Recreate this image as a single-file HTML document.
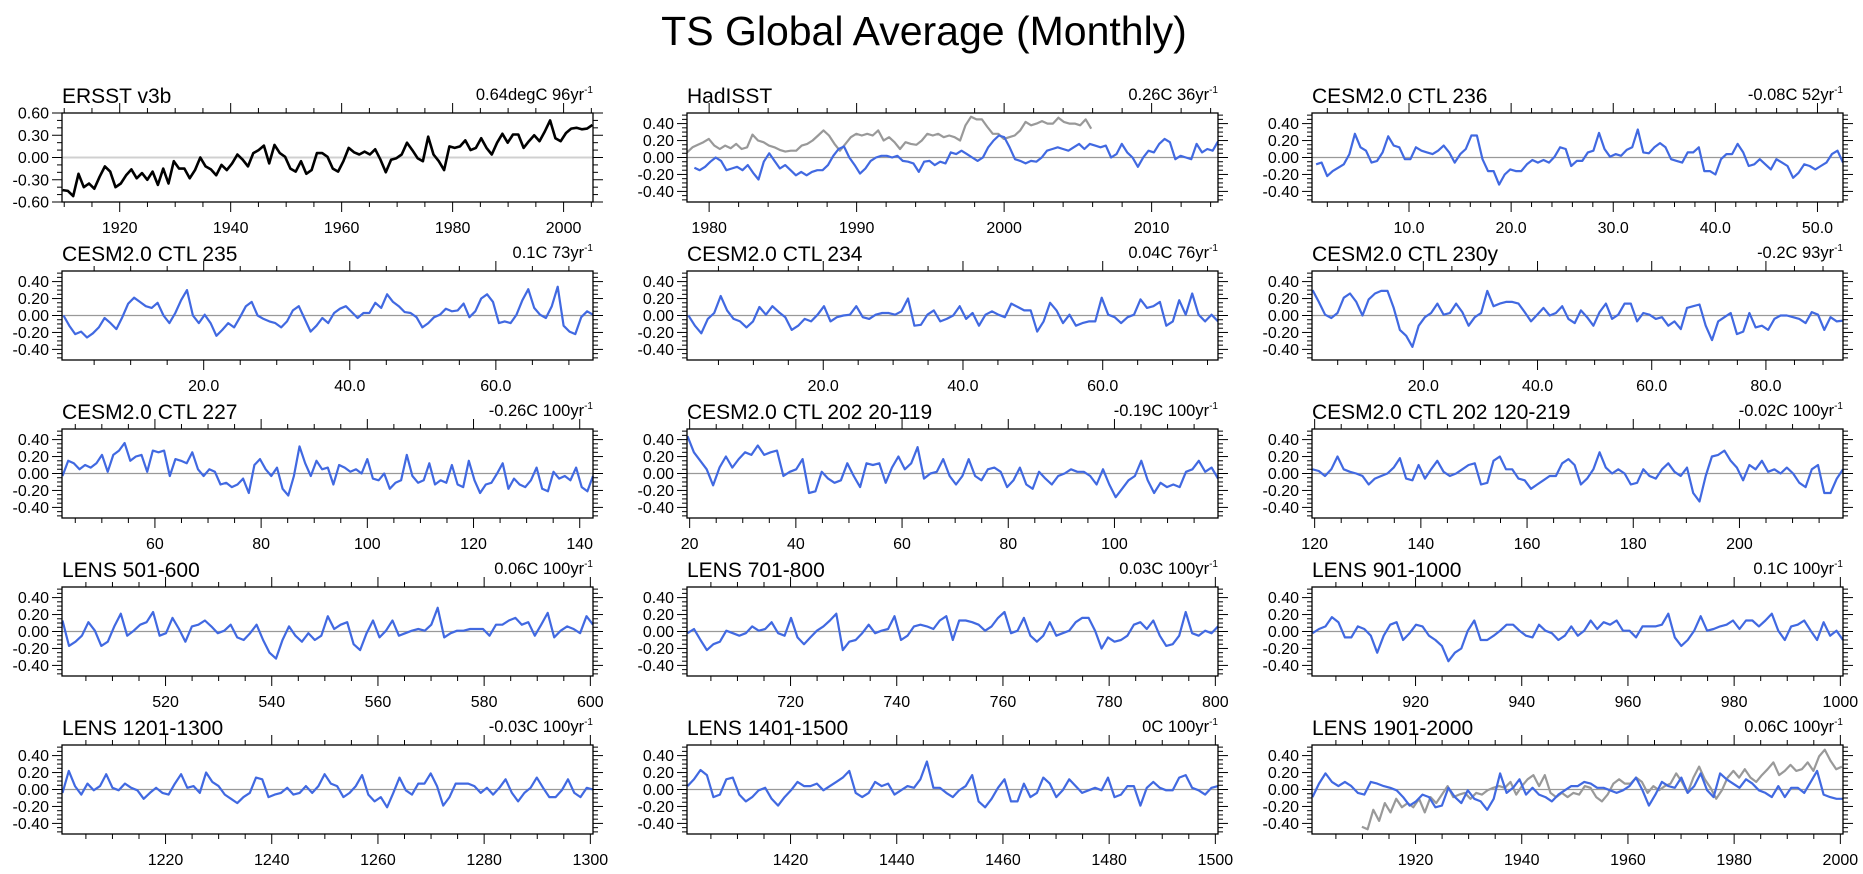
<!DOCTYPE html>
<html><head><meta charset="utf-8"><title>TS Global Average (Monthly)</title>
<style>
html,body{margin:0;padding:0;background:#fff;}
svg{display:block;font-family:"Liberation Sans",Arial,sans-serif;}
</style></head>
<body>
<svg id="chart" width="1863" height="874" viewBox="0 0 1863 874" xmlns="http://www.w3.org/2000/svg">
<rect width="1863" height="874" fill="#fff"/>
<text x="924" y="45" font-size="41" text-anchor="middle" fill="#000">TS Global Average (Monthly)</text>
</svg>
<script>
// ---- data ----
const ersstVals=[-.44,-.45,-.52,-.22,-.40,-.35,-.42,-.26,-.12,-.19,-.40,-.35,-.24,-.16,-.28,-.21,-.30,-.19,-.37,-.15,-.35,-.05,-.15,-.15,-.28,-.17,0,-.12,-.16,-.24,-.10,-.17,-.08,.04,-.03,-.12,.06,.10,.16,-.08,.17,.06,.01,-.15,-.19,-.05,-.22,-.17,.06,.06,.01,-.15,-.19,-.05,.13,.07,.04,.08,.04,.11,-.03,-.20,-.03,-.01,.04,.20,.10,-.01,-.05,.28,.04,-.05,-.17,.15,.13,.15,.23,.10,.13,.26,.13,.04,.20,.32,.20,.31,.31,.13,.22,.30,.22,.35,.50,.26,.22,.33,.39,.40,.38,.39,.44];
const hadBlueVals=[-.12,-.15,-.11,-.05,0,-.04,-.15,-.13,-.11,-.15,-.09,-.18,-.26,-.05,.05,-.04,-.13,-.09,-.15,-.21,-.17,-.21,-.17,-.15,-.15,-.09,.02,.10,.13,0,-.09,-.19,-.13,-.04,0,.02,.02,0,.02,-.04,-.05,-.07,-.17,-.05,-.04,-.09,-.05,-.07,.06,.04,.08,.04,0,-.04,0,.12,.20,.26,.24,.12,-.02,-.04,-.07,-.04,-.05,0,.08,.10,.12,.10,.08,.12,.16,.10,.16,.14,.12,.14,0,.04,.16,.06,0,-.11,0,.08,.06,.16,.22,.18,-.02,.02,0,-.02,.16,.06,.10,.08,.19];
const hadGrayVals=[.06,.12,.15,.18,.22,.14,.10,.14,.11,.16,.10,.12,.27,.20,.18,.14,.12,.09,.07,.08,.08,.14,.16,.20,.26,.32,.26,.16,.08,.16,.24,.28,.26,.28,.26,.32,.20,.24,.18,.10,.18,.16,.15,.20,.28,.26,.28,.24,.26,.24,.20,.38,.48,.45,.45,.36,.28,.28,.22,.24,.26,.32,.42,.38,.40,.43,.40,.40,.47,.42,.40,.40,.38,.45,.34];
const ctl236Vals=[-.08,-.06,-.22,-.16,-.12,-.08,.04,.28,.12,.08,-.06,-.04,.06,.25,.14,.12,-.02,-.02,.12,.08,.06,.04,.08,.14,.06,-.06,.04,.10,.26,.26,-.02,-.16,-.16,-.32,-.20,-.14,-.16,-.16,-.08,-.03,-.06,-.03,-.06,.01,.12,.10,-.10,-.04,-.04,.06,.08,.29,.10,.01,.04,.02,.09,.12,.33,.06,.05,.12,.17,.12,-.02,-.04,-.06,.06,.06,.12,-.16,-.16,-.20,-.02,.04,.04,.16,.06,-.10,-.08,-.02,-.08,-.14,-.02,-.06,-.10,-.24,-.18,-.08,-.10,-.14,-.10,-.06,.04,.08,-.06];
const ctl235Vals=[0,-.12,-.22,-.19,-.26,-.21,-.14,-.03,-.09,-.16,-.02,.14,.21,.16,.11,.09,.15,0,-.09,.03,.18,.30,0,-.09,.01,-.09,-.24,-.17,-.09,-.14,-.02,.11,.16,0,-.04,-.07,-.09,-.14,-.07,.06,.11,-.04,-.19,-.12,-.03,-.09,.03,.08,.11,.04,-.03,.03,.03,.15,.09,.25,.16,.11,.04,.03,-.02,-.14,-.09,-.02,.01,.08,.05,.06,.14,-.02,.05,.20,.25,.16,-.09,-.07,-.09,.01,.18,.31,.09,.01,-.03,.11,.34,-.12,-.19,-.22,-.02,.05,.01];
const ctl234Vals=[0,-.12,-.21,-.04,.03,.23,.06,-.04,-.07,-.14,-.07,.10,.01,.11,.04,-.02,-.17,-.12,-.04,-.07,.01,.11,-.07,-.02,0,.01,.11,-.02,-.04,.01,.03,.03,.01,.05,.20,-.12,-.11,.01,.06,-.07,-.04,0,.11,-.04,.03,-.12,.01,.05,.01,-.02,.14,.10,.06,.06,-.19,-.07,.15,.06,-.09,.01,-.12,-.09,-.07,-.07,.21,.01,-.02,-.09,-.02,.01,.19,.09,.11,.16,-.12,-.07,.18,.01,.26,.01,-.07,.01,-.07];
const ctl230Vals=[.30,.16,.01,-.03,.03,.21,.26,.16,0,.19,.26,.29,.29,.09,-.17,-.24,-.37,-.12,-.02,.03,.14,.01,.03,.14,.04,-.12,-.02,.03,.29,.11,.14,.16,.16,.14,.04,-.07,.01,.09,0,.03,.11,-.04,-.09,.06,-.02,-.12,.04,.14,-.04,.01,.14,.14,-.07,.03,.01,-.04,-.02,-.12,-.07,-.16,.09,.11,.13,-.12,-.29,-.07,-.02,.03,-.22,-.19,.03,-.14,-.12,-.17,-.04,0,0,-.02,-.04,-.09,.04,.01,-.17,-.02,-.07,-.06];
const ctl227Vals=[-.03,.15,.12,.05,.10,.07,.12,.22,.02,.22,.27,.36,.15,.20,.22,.02,.27,.25,.27,-.03,.17,.15,.12,.25,.05,-.03,.05,.02,-.13,-.11,-.16,-.13,-.06,-.23,.10,.17,.05,-.03,.07,-.18,-.26,-.03,.32,.12,-.03,.15,.05,.07,-.13,.10,.07,.02,.05,0,.17,-.06,-.08,0,-.18,-.11,-.08,.22,-.03,-.11,-.08,.12,-.13,-.08,-.11,.10,-.13,-.16,.15,-.08,-.23,-.13,-.11,0,.12,-.18,-.06,-.13,-.16,-.08,.07,-.18,-.21,.02,-.06,-.03,-.08,.07,-.16,-.21,-.03];
const ctl202aVals=[.44,.25,.15,.05,-.14,.07,.20,.07,.17,.25,.22,.33,.22,.25,.27,-.03,.02,.05,.17,-.23,-.21,.02,-.06,-.11,-.08,.12,-.03,-.16,.12,.10,.12,-.11,.07,.20,.05,.12,.31,-.06,0,.02,.17,-.03,-.13,-.03,.17,-.03,-.08,.05,.07,.02,-.16,-.08,.07,-.13,-.18,.02,-.06,-.13,-.03,0,.05,.02,.02,-.03,-.13,.05,-.13,-.28,-.18,-.08,-.03,.15,-.08,-.23,-.11,-.16,-.13,-.16,.02,.05,.15,.02,.07,-.06];
const ctl202bVals=[.05,.03,-.03,.05,.20,.05,.02,0,-.03,-.13,-.06,-.03,0,.07,.18,-.06,-.08,.10,-.06,.05,.15,.02,-.03,0,.05,.10,.12,-.13,-.11,.15,.20,.05,.05,-.06,-.08,-.18,-.13,-.08,-.03,-.03,.12,.17,.10,-.13,-.06,.05,.25,.07,0,.05,0,-.13,-.11,.05,-.03,-.06,.05,.12,.02,-.03,.07,-.23,-.33,-.03,.20,.22,.27,.15,.07,-.08,.10,.05,.15,.02,.05,0,.07,0,-.11,-.16,.05,.10,-.23,-.23,-.06,.05];
const lens501Vals=[.13,-.17,-.12,-.05,.11,.01,-.17,-.12,.06,.21,-.05,.01,.08,.11,.23,-.05,-.02,.16,.03,-.12,.06,.08,.13,.06,-.02,.01,.08,-.07,-.10,-.02,.08,-.10,-.25,-.32,-.10,.06,-.05,-.12,-.02,-.10,-.05,.18,.03,.08,.11,-.15,-.22,-.02,.13,-.07,.01,.13,-.05,-.02,.01,.03,.01,.08,.28,-.07,-.02,.01,.01,.03,.03,.03,-.05,.08,.08,.13,.16,.08,.11,-.05,.08,.22,-.07,.01,.06,.03,-.02,.18,.08];
const lens701Vals=[-.02,.03,-.10,-.22,-.15,-.12,.01,-.02,-.05,-.02,.06,.01,.03,.11,-.02,-.05,.16,-.07,-.15,-.07,.01,.06,.13,.21,-.22,-.12,-.10,-.02,.08,-.02,.01,.03,.18,-.10,-.05,.06,.08,.06,.03,.13,.18,-.10,.13,.13,.11,.08,.01,.06,.16,.23,-.02,.01,.16,-.05,-.12,-.05,.11,-.05,-.02,.01,.11,.16,.16,.01,-.20,-.07,-.12,-.10,-.05,.08,.11,.03,.13,-.05,-.17,-.15,-.05,.23,-.02,-.05,.01,-.02,.06];
const lens901Vals=[-.02,.03,.06,.17,.11,-.07,-.07,.06,.03,-.05,-.25,-.05,.08,.11,-.10,-.02,.08,.06,-.05,-.10,-.17,-.35,-.25,-.20,.01,.13,-.10,-.10,-.05,.01,.08,.08,.01,-.05,-.07,.08,.01,-.02,-.10,-.05,.06,-.05,.01,.13,.03,.11,.08,.13,.01,.01,-.07,.06,.06,.06,.08,.21,-.07,-.17,-.10,.01,.18,.01,.03,.06,.08,.13,.03,.13,.13,.06,.13,.21,.01,-.10,.06,.08,.13,.01,-.10,.11,-.05,.01,-.10];
const lens1201Vals=[-.04,.22,.04,-.06,.07,-.01,.04,.18,.02,-.01,.07,.02,-.01,-.11,-.04,.02,-.04,-.06,.07,.18,.02,.04,-.04,.20,.09,.04,-.06,-.11,-.16,-.09,-.04,.14,.12,-.09,-.06,-.04,.02,-.06,-.04,.04,-.04,.04,.18,.07,.04,-.09,-.04,.04,.17,-.06,-.14,-.09,-.21,-.04,.14,-.01,-.06,.07,.07,.19,.04,-.19,-.09,.07,.07,.07,.04,-.04,.02,-.06,.02,.12,-.04,-.14,-.04,.02,.14,.02,-.09,-.09,-.01,.12,-.04,-.09,.02,0];
const lens1401Vals=[.04,.12,.23,.17,-.09,-.06,.12,.14,-.06,-.14,-.09,-.01,.02,-.11,-.19,-.09,-.01,.09,.04,.04,.07,-.01,.04,.09,.14,.22,-.04,-.09,-.04,.09,.04,.07,-.06,-.01,.04,.02,.12,.33,.02,.02,-.04,-.09,-.01,.04,.17,-.14,-.21,-.11,.02,.12,-.14,-.14,.07,-.09,-.04,.14,.07,-.09,-.01,.12,.04,-.04,-.01,.02,-.01,.14,-.09,-.06,.04,.04,-.19,.02,.09,.02,-.01,-.01,.14,.17,.02,-.01,-.06,.02,.04];
const lens1901Vals=[-.09,.07,.19,.09,.04,.09,.04,-.04,-.06,.09,.07,.04,.02,-.01,-.09,-.19,-.14,-.06,-.09,-.21,-.19,.02,-.09,-.16,-.01,-.11,-.14,-.24,-.11,.19,-.04,.02,.12,-.06,.02,-.06,-.09,-.14,-.06,-.01,.04,.04,.09,.07,.02,.02,-.01,-.04,-.01,.04,.14,-.01,-.19,-.06,.09,.04,.02,.14,-.04,.04,.19,-.01,-.09,.19,.12,.07,.02,.12,.07,-.01,-.04,-.09,.04,-.09,.02,.02,-.04,.09,.22,-.06,-.09,-.11,-.11];
const obs1901Vals=[-.44,-.47,-.24,-.37,-.16,-.27,-.11,-.21,-.16,-.21,-.11,-.27,-.09,-.16,-.06,.04,-.09,-.06,-.04,-.11,-.04,-.06,-.01,.02,.04,.02,.09,-.06,.04,.12,.17,.04,.17,-.04,-.09,-.04,-.09,-.04,-.06,.04,.02,-.09,-.14,-.06,.07,.12,.07,.07,.14,.09,-.04,.04,-.01,.04,.07,.19,.09,-.04,.14,.27,.12,.02,-.11,-.01,.14,.22,.14,.24,.14,.09,.17,.24,.32,.17,.22,.29,.22,.24,.32,.22,.39,.47,.34,.24,.27];

const panelTitles=["ERSST v3b","HadISST","CESM2.0 CTL 236","CESM2.0 CTL 235","CESM2.0 CTL 234","CESM2.0 CTL 230y","CESM2.0 CTL 227","CESM2.0 CTL 202 20-119","CESM2.0 CTL 202 120-219","LENS 501-600","LENS 701-800","LENS 901-1000","LENS 1201-1300","LENS 1401-1500","LENS 1901-2000"];
const trendLabels=["0.64degC 96yr","0.26C 36yr","-0.08C 52yr","0.1C 73yr","0.04C 76yr","-0.2C 93yr","-0.26C 100yr","-0.19C 100yr","-0.02C 100yr","0.06C 100yr","0.03C 100yr","0.1C 100yr","-0.03C 100yr","0C 100yr","0.06C 100yr"];
const xDomains=[[1909.6,2005.3],[1978.5,2014.5],[0.5,52.5],[0.6,73.3],[0.5,76.5],[0.5,93.5],[42.5,142.5],[19.5,119.5],[119.5,219.5],[500.5,600.5],[700.5,800.5],[900.5,1000.5],[1200.5,1300.5],[1400.5,1500.5],[1900.5,2000.5]];
const xMajor=[20,10,10,20,20,20,20,20,20,20,20,20,20,20,20];
const xMinor=[5,2,2,5,5,5,5,5,5,5,5,5,5,5,5];
const xDecimals=[0,0,1,1,1,1,0,0,0,0,0,0,0,0,0];
const seriesList=[
 [{v:ersstVals,t0:1909.7,t1:2005.2,c:"#000",w:2.6}],
 [{v:hadGrayVals,t0:1978.5,t1:2005.9,c:"#999",w:2.2},{v:hadBlueVals,t0:1979,t1:2014.5,c:"#4169e1",w:2.2}],
 [{v:ctl236Vals,t0:0.9,t1:52.5,c:"#4169e1",w:2.2}],
 [{v:ctl235Vals,t0:0.8,t1:73.3,c:"#4169e1",w:2.2}],
 [{v:ctl234Vals,t0:0.7,t1:76.5,c:"#4169e1",w:2.2}],
 [{v:ctl230Vals,t0:0.6,t1:93.5,c:"#4169e1",w:2.2}],
 [{v:ctl227Vals,t0:42.6,t1:142.5,c:"#4169e1",w:2.2}],
 [{v:ctl202aVals,t0:19.6,t1:119.5,c:"#4169e1",w:2.2}],
 [{v:ctl202bVals,t0:119.6,t1:219.5,c:"#4169e1",w:2.2}],
 [{v:lens501Vals,t0:500.6,t1:600.5,c:"#4169e1",w:2.2}],
 [{v:lens701Vals,t0:700.6,t1:800.5,c:"#4169e1",w:2.2}],
 [{v:lens901Vals,t0:900.6,t1:1000.5,c:"#4169e1",w:2.2}],
 [{v:lens1201Vals,t0:1200.6,t1:1300.5,c:"#4169e1",w:2.2}],
 [{v:lens1401Vals,t0:1400.6,t1:1500.5,c:"#4169e1",w:2.2}],
 [{v:obs1901Vals,t0:1909.9,t1:2000.3,c:"#999",w:2.2},{v:lens1901Vals,t0:1900.6,t1:2000.5,c:"#4169e1",w:2.2}]
];

// ---- layout ----
const svg=document.getElementById('chart');
const NS="http://www.w3.org/2000/svg";
const colX=[62,687,1312], rowY=[113,271,429,587,745], PW=531, PH=89;
function mk(tag,attrs,parent){const e=document.createElementNS(NS,tag);for(const k in attrs)e.setAttribute(k,attrs[k]);(parent||svg).appendChild(e);return e;}
function slug(s){return s.toLowerCase().replace(/[^a-z0-9]+/g,'-').replace(/^-|-$/g,'');}

panelTitles.forEach((title,i)=>{
  const L=colX[i%3], T=rowY[Math.floor(i/3)], R=L+PW, B=T+PH;
  const [x0,x1]=xDomains[i];
  const isE=(i===0);
  const y0=isE?-0.6:-0.525, y1=isE?0.6:0.525;
  const xs=t=>L+(t-x0)/(x1-x0)*PW;
  const ys=v=>B-(v-y0)/(y1-y0)*PH;
  const g=mk('g',{});
  
  

  const tt=mk('text',{x:L,y:T-10,'font-size':21,fill:'#000'},g);
  tt.textContent=title;
  
  
  const tr=mk('text',{x:R,y:T-13,'font-size':16.5,fill:'#000','text-anchor':'end'},g);
  
  
  tr.appendChild(document.createTextNode(trendLabels[i]));
  const sup=mk('tspan',{'font-size':10,dy:-7},tr); sup.textContent='-1';

  const zl=mk('line',{x1:L,x2:R,y1:ys(0),y2:ys(0),stroke:isE?'#d0d0d0':'#999','stroke-width':isE?2:1.2},g);
  
  

  const startM=Math.ceil(x0/xMinor[i]-1e-9)*xMinor[i];
  for(let t=startM;t<=x1+1e-9;t+=xMinor[i]){
    const tv=Math.round(t*1000)/1000;
    const maj=Math.abs(tv/xMajor[i]-Math.round(tv/xMajor[i]))<1e-6;
    const len=maj?10:5, x=xs(tv);
    mk('line',{x1:x,x2:x,y1:B,y2:B+len,stroke:'#000','stroke-width':1},g);
    mk('line',{x1:x,x2:x,y1:T,y2:T-len,stroke:'#000','stroke-width':1},g);
    if(maj){
      const lb=mk('text',{x:x,y:B+31,'font-size':16,'text-anchor':'middle',fill:'#000'},g);
      lb.textContent=tv.toFixed(xDecimals[i]);
      
      
    }
  }
  const yMaj=isE?0.3:0.2, yMin=isE?0.1:0.05;
  for(let k=Math.ceil(y0/yMin-1e-9);k*yMin<=y1+1e-9;k++){
    const v=Math.round(k*yMin*1000)/1000;
    const maj=Math.abs(v/yMaj-Math.round(v/yMaj))<1e-6;
    const len=maj?10:5, y=ys(v);
    mk('line',{x1:L,x2:L-len,y1:y,y2:y,stroke:'#000','stroke-width':1},g);
    mk('line',{x1:R,x2:R+len,y1:y,y2:y,stroke:'#000','stroke-width':1},g);
    if(maj){
      const lb=mk('text',{x:L-13,y:y+5.5,'font-size':16,'text-anchor':'end',fill:'#000'},g);
      lb.textContent=v.toFixed(2);
      
      
    }
  }
  seriesList[i].forEach((s,j)=>{
    const n=s.v.length;
    const pts=s.v.map((v,k)=>xs(s.t0+(s.t1-s.t0)*k/(n-1)).toFixed(1)+','+ys(v).toFixed(1)).join(' ');
    const pl=mk('polyline',{points:pts,fill:'none',stroke:s.c,'stroke-width':s.w,'stroke-linejoin':'round'},g);
    
    
  });
  const fr=mk('rect',{x:L,y:T,width:PW,height:PH,fill:'none',stroke:'#000','stroke-width':1.3},g);
  
  
});
</script>
</body></html>
